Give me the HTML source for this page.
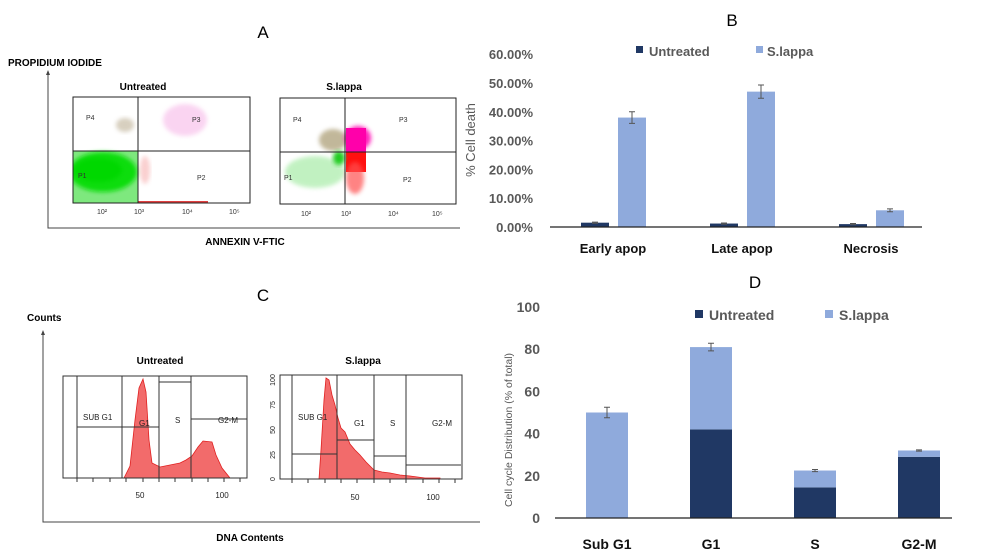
<!DOCTYPE html>
<html><head><meta charset="utf-8">
<style>
body{margin:0;background:#fff;width:992px;height:559px;overflow:hidden;font-family:"Liberation Sans",sans-serif}
svg{position:absolute;left:0;top:0}
</style></head>
<body>
<svg id="fig" width="992" height="559" viewBox="0 0 992 559" xmlns="http://www.w3.org/2000/svg" font-family="Liberation Sans, sans-serif">
<defs>
<filter id="blur" x="-20%" y="-20%" width="140%" height="140%"><feGaussianBlur stdDeviation="2"/></filter>
<clipPath id="clipA1"><rect x="73" y="97" width="177" height="106"/></clipPath>
<clipPath id="clipA2"><rect x="280" y="98" width="176" height="106"/></clipPath>
</defs>
<text x="263" y="38" font-size="17" text-anchor="middle">A</text>
<text x="732" y="26" font-size="17" text-anchor="middle">B</text>
<text x="263" y="301" font-size="17" text-anchor="middle">C</text>
<text x="755" y="288" font-size="17" text-anchor="middle">D</text>

<g>
<text x="8" y="66" font-size="10" font-weight="bold">PROPIDIUM IODIDE</text>
<path d="M48,72 V228 H460" fill="none" stroke="#444" stroke-width="1"/>
<path d="M46,75 L48,70 L50,75 Z" fill="#444"/>
<text x="245" y="245" font-size="10" font-weight="bold" text-anchor="middle">ANNEXIN V-FTIC</text>
<text x="143" y="90" font-size="10" font-weight="bold" text-anchor="middle">Untreated</text>
<text x="344" y="90" font-size="10" font-weight="bold" text-anchor="middle">S.lappa</text>
<g clip-path="url(#clipA1)">
<rect x="73" y="151" width="65" height="52" fill="#7ee87e"/>
<ellipse cx="103" cy="172" rx="34" ry="20" fill="#10dd10" filter="url(#blur)"/>
<ellipse cx="98" cy="170" rx="24" ry="12" fill="#00d800" filter="url(#blur)"/>
<ellipse cx="185" cy="120" rx="22" ry="16" fill="#f7b8e8" opacity="0.6" filter="url(#blur)"/>
<ellipse cx="125" cy="125" rx="9" ry="7" fill="#b0a080" opacity="0.5" filter="url(#blur)"/>
<ellipse cx="145" cy="170" rx="5" ry="14" fill="#f5a0a0" opacity="0.5" filter="url(#blur)"/>
<rect x="138" y="201" width="70" height="2" fill="#e04040"/>
</g>
<rect x="73" y="97" width="177" height="106" fill="none" stroke="#222" stroke-width="1"/>
<path d="M138,97 V203 M73,151 H250" stroke="#222" stroke-width="1"/>
<g font-size="7" fill="#333"><text x="86" y="120">P4</text><text x="192" y="122">P3</text><text x="78" y="178">P1</text><text x="197" y="180">P2</text>
<text x="97" y="214">10²</text><text x="134" y="214">10³</text><text x="182" y="214">10⁴</text><text x="229" y="214">10⁵</text></g>
<g clip-path="url(#clipA2)">
<ellipse cx="315" cy="172" rx="30" ry="16" fill="#a8eca8" opacity="0.7" filter="url(#blur)"/>
<ellipse cx="333" cy="140" rx="14" ry="11" fill="#a89a70" opacity="0.7" filter="url(#blur)"/>
<ellipse cx="358" cy="138" rx="13" ry="12" fill="#ff22bb" filter="url(#blur)"/>
<rect x="346" y="128" width="20" height="24" fill="#ff00aa"/>
<rect x="346" y="152" width="20" height="20" fill="#ff1010"/>
<ellipse cx="355" cy="178" rx="9" ry="16" fill="#ff5050" opacity="0.7" filter="url(#blur)"/>
<ellipse cx="339" cy="158" rx="6" ry="7" fill="#20cc20" filter="url(#blur)"/>
</g>
<rect x="280" y="98" width="176" height="106" fill="none" stroke="#222" stroke-width="1"/>
<path d="M345,98 V204 M280,152 H456" stroke="#222" stroke-width="1"/>
<g font-size="7" fill="#333"><text x="293" y="122">P4</text><text x="399" y="122">P3</text><text x="284" y="180">P1</text><text x="403" y="182">P2</text>
<text x="301" y="216">10²</text><text x="341" y="216">10³</text><text x="388" y="216">10⁴</text><text x="432" y="216">10⁵</text></g>
</g>

<g>
<text x="27" y="321" font-size="10" font-weight="bold">Counts</text>
<path d="M43,332 V522 H480" fill="none" stroke="#444" stroke-width="1"/>
<path d="M41,335 L43,330 L45,335 Z" fill="#444"/>
<text x="250" y="541" font-size="10" font-weight="bold" text-anchor="middle">DNA Contents</text>
<text x="160" y="364" font-size="10" font-weight="bold" text-anchor="middle">Untreated</text>
<text x="363" y="364" font-size="10" font-weight="bold" text-anchor="middle">S.lappa</text>
<g>
<path d="M124,478 L130,466 L135,420 L139,388 L143,379 L146,392 L149,440 L152,463 L160,467 L170,465 L180,463 L186,460 L192,456 L198,447 L203,441 L212,442 L216,455 L222,468 L230,478 Z" fill="#f26b6b" stroke="#e02020" stroke-width="0.8"/>
<rect x="63" y="376" width="184" height="102" fill="none" stroke="#333" stroke-width="1"/>
<path d="M77,376 V478 M122,376 V478 M159,376 V478 M191,376 V478 M77,427 H159 M159,382 H191 M191,419 H247" stroke="#333" stroke-width="1"/>
<g font-size="8" fill="#222"><text x="83" y="420">SUB G1</text><text x="139" y="426">G1</text><text x="175" y="423">S</text><text x="218" y="423">G2-M</text>
<text x="140" y="498" text-anchor="middle">50</text><text x="222" y="498" text-anchor="middle">100</text></g>
<path d="M77,478v4M93,478v4M110,478v4M126,478v4M143,478v4M159,478v4M175,478v4M192,478v4M208,478v4M224,478v4M240,478v4" stroke="#333"/>
</g>
<g>
<path d="M319,479 L321,450 L324,400 L326,378 L329,380 L332,395 L335,405 L338,418 L341,428 L345,432 L350,444 L355,450 L360,455 L366,462 L374,470 L382,472 L390,473 L400,475 L410,476 L425,478 L440,478 L440,479 Z" fill="#f26b6b" stroke="#e02020" stroke-width="0.8"/>
<rect x="280" y="375" width="182" height="104" fill="none" stroke="#333" stroke-width="1"/>
<path d="M292,375 V479 M337,375 V479 M374,375 V479 M406,375 V479 M292,454 H337 M337,440 H374 M374,456 H406 M406,465 H461" stroke="#333" stroke-width="1"/>
<g font-size="8" fill="#222"><text x="298" y="420">SUB G1</text><text x="354" y="426">G1</text><text x="390" y="426">S</text><text x="432" y="426">G2-M</text>
<text x="355" y="500" text-anchor="middle">50</text><text x="433" y="500" text-anchor="middle">100</text></g>
<g font-size="7" fill="#222"><text transform="translate(275,479) rotate(-90)" text-anchor="middle">0</text><text transform="translate(275,455) rotate(-90)" text-anchor="middle">25</text><text transform="translate(275,430) rotate(-90)" text-anchor="middle">50</text><text transform="translate(275,405) rotate(-90)" text-anchor="middle">75</text><text transform="translate(275,380) rotate(-90)" text-anchor="middle">100</text></g>
<path d="M292,479v4M308,479v4M325,479v4M341,479v4M357,479v4M374,479v4M390,479v4M406,479v4M423,479v4M439,479v4M455,479v4" stroke="#333"/>
</g>
</g>

<g id="chartB"></g>
<g id="chartD"></g>
</svg>
<script>
const bCategories = ["Early apop", "Late apop", "Necrosis"];
const bUntreated = [1.5, 1.2, 1.0];
const bSlappa = [38, 47, 5.8];
const bUntreatedErr = [0.2, 0.2, 0.2];
const bSlappaErr = [2.0, 2.3, 0.5];
const bTicks = ["0.00%", "10.00%", "20.00%", "30.00%", "40.00%", "50.00%", "60.00%"];

const dCategories = ["Sub G1", "G1", "S", "G2-M"];
const dUntreated = [0, 42, 14.5, 29];
const dSlappa = [50, 39, 8, 3];
const dErr = [2.5, 1.8, 0.5, 0.3];
const dTicks = ["0", "20", "40", "60", "80", "100"];

const NS = "http://www.w3.org/2000/svg";
const DARK = "#203864", LIGHT = "#8faadc";
function mk(parent, tag, attrs, text) {
  const e = document.createElementNS(NS, tag);
  for (const k in attrs) e.setAttribute(k, attrs[k]);
  if (text !== undefined) e.textContent = text;
  parent.appendChild(e);
  return e;
}
function errBar(g, x, yTop, yBot) {
  mk(g, "path", {d: `M${x},${yTop}V${yBot}M${x-3},${yTop}H${x+3}M${x-3},${yBot}H${x+3}`, stroke: "#555", "stroke-width": 1, fill: "none"});
}

(function () {
  const g = document.getElementById("chartB");
  const y0 = 227, pxPer = 28.8 / 10;
  const yB = v => y0 - v * pxPer;
  const gx = i => 595 + i * 129;
  bTicks.forEach((t, i) => {
    const el = mk(g, "text", {x: 533, y: yB(i * 10) + 5, "font-size": 13, "font-weight": "bold", fill: "#595959", "text-anchor": "end"}, t);
    
    
  });
  bCategories.forEach((c, i) => {
    const r1 = mk(g, "rect", {x: gx(i) - 14, y: yB(bUntreated[i]), width: 28, height: bUntreated[i] * pxPer, fill: DARK});
    
    
    errBar(g, gx(i), yB(bUntreated[i] + bUntreatedErr[i]), yB(bUntreated[i] - bUntreatedErr[i]));
    const r2 = mk(g, "rect", {x: gx(i) + 23, y: yB(bSlappa[i]), width: 28, height: bSlappa[i] * pxPer, fill: LIGHT});
    
    
    errBar(g, gx(i) + 37, yB(bSlappa[i] + bSlappaErr[i]), yB(bSlappa[i] - bSlappaErr[i]));
    const lb = mk(g, "text", {x: gx(i) + 18, y: 253, "font-size": 13, "font-weight": "bold", fill: "#111", "text-anchor": "middle"}, c);
    
    
  });
  mk(g, "line", {x1: 550, y1: y0, x2: 922, y2: y0, stroke: "#222", "stroke-width": 1.3});
  const t = mk(g, "text", {transform: "translate(475,140) rotate(-90)", "font-size": 13, fill: "#595959", "text-anchor": "middle"}, "% Cell death");
  
  
  mk(g, "rect", {x: 636, y: 46, width: 7, height: 7, fill: DARK});
  const l1 = mk(g, "text", {x: 649, y: 56, "font-size": 13, "font-weight": "bold", fill: "#595959"}, "Untreated");
  
  
  mk(g, "rect", {x: 756, y: 46, width: 7, height: 7, fill: LIGHT});
  const l2 = mk(g, "text", {x: 767, y: 56, "font-size": 13, "font-weight": "bold", fill: "#595959"}, "S.lappa");
  
  
})();

(function () {
  const g = document.getElementById("chartD");
  const y0 = 518, pxPer = 211 / 100;
  const yD = v => y0 - v * pxPer;
  const cx = i => 607 + i * 104;
  dTicks.forEach((t, i) => {
    const el = mk(g, "text", {x: 540, y: yD(i * 20) + 5, "font-size": 14, "font-weight": "bold", fill: "#595959", "text-anchor": "end"}, t);
    
    
  });
  dCategories.forEach((c, i) => {
    const u = dUntreated[i], s = dSlappa[i];
    const r1 = mk(g, "rect", {x: cx(i) - 21, y: yD(u), width: 42, height: u * pxPer, fill: DARK});
    
    
    const r2 = mk(g, "rect", {x: cx(i) - 21, y: yD(u + s), width: 42, height: s * pxPer, fill: LIGHT});
    
    
    errBar(g, cx(i), yD(u + s + dErr[i]), yD(u + s - dErr[i]));
    const lb = mk(g, "text", {x: cx(i), y: 549, "font-size": 14, "font-weight": "bold", fill: "#111", "text-anchor": "middle"}, c);
    
    
  });
  mk(g, "line", {x1: 555, y1: y0, x2: 952, y2: y0, stroke: "#222", "stroke-width": 1.3});
  const t = mk(g, "text", {transform: "translate(512,430) rotate(-90)", "font-size": 10.5, fill: "#595959", "text-anchor": "middle"}, "Cell cycle Distribution (% of total)");
  
  
  mk(g, "rect", {x: 695, y: 310, width: 8, height: 8, fill: DARK});
  const l1 = mk(g, "text", {x: 709, y: 320, "font-size": 14, "font-weight": "bold", fill: "#595959"}, "Untreated");
  
  
  mk(g, "rect", {x: 825, y: 310, width: 8, height: 8, fill: LIGHT});
  const l2 = mk(g, "text", {x: 839, y: 320, "font-size": 14, "font-weight": "bold", fill: "#595959"}, "S.lappa");
  
  
})();
</script>
</body></html>
